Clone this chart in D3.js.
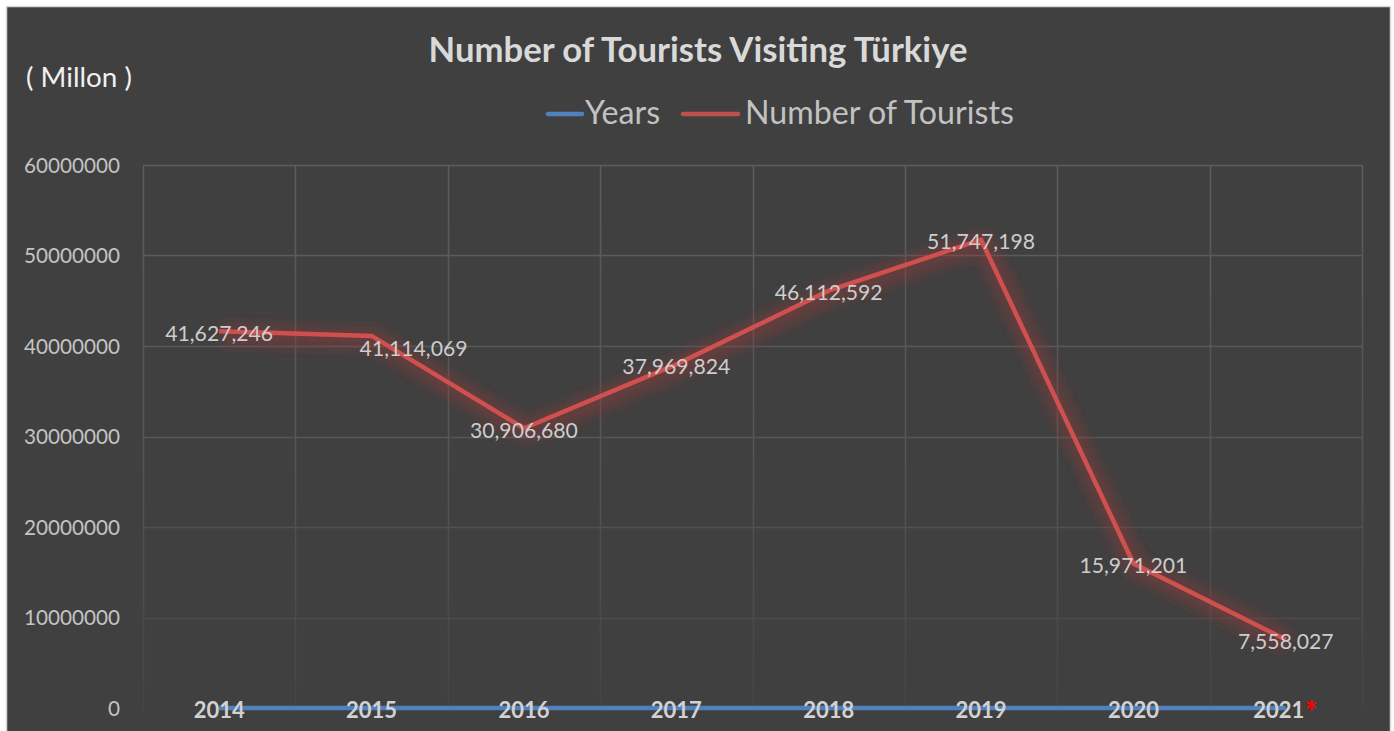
<!DOCTYPE html>
<html lang="en">
<head>
    <meta charset="UTF-8">
    <title>Number of Tourists Visiting Türkiye</title>
    <script src="https://d3js.org/d3.v7.min.js"></script>
    <style>
        body, html {
            margin: 0px;
            background: #ffffff;
        }
        svg text {
            font-family: Lato, "Open Sans", sans-serif;
        }
    </style>
</head>
<body>
    <div id="chart"></div>
    <script>
        // data
        var years = ["2014", "2015", "2016", "2017", "2018", "2019", "2020", "2021"];
        var yearValues = [2014, 2015, 2016, 2017, 2018, 2019, 2020, 2021];
        var tourists = [41627246, 41114069, 30906680, 37969824, 46112592, 51747198, 15971201, 7558027];
        var yTicks = [0, 10000000, 20000000, 30000000, 40000000, 50000000, 60000000];
        var legendNames = ["Years", "Number of Tourists"];

        var width = 1394, height = 731;
        var plot = { left: 143, right: 1362, top: 165, bottom: 708 };

        var svg = d3.select("#chart")
            .append("svg")
            .attr("width", width)
            .attr("height", height);

        // scale the font of a selection so that its first text is w pixels wide
        function fitTo(sel, w) {
            var node = sel.node();
            var fs = parseFloat(window.getComputedStyle(node).fontSize);
            var cur = node.getComputedTextLength();
            if (cur > 0) sel.style("font-size", (fs * w / cur).toFixed(2) + "px");
        }

        var defs = svg.append("defs");

        // soft glow round the lines
        var glow = defs.append("filter")
            .attr("id", "glow")
            .attr("x", "-10%").attr("y", "-30%")
            .attr("width", "120%").attr("height", "160%");
        glow.append("feGaussianBlur").attr("stdDeviation", 6);

        // grid gets fainter towards the bottom
        var gridGrad = defs.append("linearGradient")
            .attr("id", "gridGrad")
            .attr("gradientUnits", "userSpaceOnUse")
            .attr("x1", 0).attr("x2", 0)
            .attr("y1", plot.top).attr("y2", plot.bottom);
        gridGrad.append("stop").attr("offset", "0%").attr("stop-color", "#5d5d5d");
        gridGrad.append("stop").attr("offset", "55%").attr("stop-color", "#555555");
        gridGrad.append("stop").attr("offset", "100%").attr("stop-color", "#454545");

        // background + frame
        svg.append("rect")
            .attr("x", 6.5).attr("y", 6.5)
            .attr("width", 1384).attr("height", 740)
            .attr("fill", "#404040")
            .attr("stroke", "#d9d9d9")
            .attr("stroke-width", 1.5);

        var x = d3.scaleBand()
            .domain(years)
            .range([plot.left, plot.right]);
        var cx = d => x(d) + x.bandwidth() / 2;

        var y = d3.scaleLinear()
            .domain([0, 60000000])
            .range([plot.bottom, plot.top]);

        // grid
        var grid = svg.append("g").attr("class", "grid");
        grid.selectAll("line.h")
            .data(yTicks.filter(d => d > 0))
            .enter().append("line")
            .attr("class", "h")
            .attr("x1", plot.left).attr("x2", plot.right)
            .attr("y1", d => Math.round(y(d)) + 0.5)
            .attr("y2", d => Math.round(y(d)) + 0.5)
            .attr("stroke", "url(#gridGrad)")
            .attr("stroke-width", 1.5);
        var vlines = years.map(d => x(d)).concat([plot.right]);
        grid.selectAll("line.v")
            .data(vlines)
            .enter().append("line")
            .attr("class", "v")
            .attr("x1", d => Math.round(d) + 0.5).attr("x2", d => Math.round(d) + 0.5)
            .attr("y1", plot.top).attr("y2", plot.bottom)
            .attr("stroke", "url(#gridGrad)")
            .attr("stroke-width", 1.5);

        // y axis labels
        var yAxis = d3.axisLeft(y)
            .tickValues(yTicks)
            .tickFormat(d3.format("d"))
            .tickSize(0)
            .tickPadding(0);
        var yg = svg.append("g")
            .attr("transform", "translate(120,0)")
            .call(yAxis);
        yg.select(".domain").remove();
        yg.attr("font-family", null).attr("font-size", null);
        var yText = yg.selectAll("text")
            .attr("fill", "#c4c4c4")
            .style("font-size", "20px")
            .attr("dy", "0.36em");
        fitTo(yg.selectAll("text").filter(d => d === 60000000), 96);
        yText.style("font-size", yg.selectAll("text").filter(d => d === 60000000).style("font-size"));

        // Years series (sits on the zero line)
        var lineYears = d3.line()
            .x((d, i) => cx(years[i]))
            .y(d => y(d));
        svg.append("path")
            .datum(yearValues)
            .attr("d", lineYears)
            .attr("transform", "translate(0,-4)")
            .attr("fill", "none")
            .attr("stroke", "#4f81bd")
            .attr("stroke-width", 12)
            .attr("stroke-opacity", 0.3)
            .attr("filter", "url(#glow)");
        svg.append("path")
            .datum(yearValues)
            .attr("d", lineYears)
            .attr("fill", "none")
            .attr("stroke", "#4f81bd")
            .attr("stroke-width", 4.5);

        // x axis labels (bold years)
        var xAxis = d3.axisBottom(x).tickSize(0).tickPadding(0);
        var xg = svg.append("g")
            .attr("transform", "translate(0," + 718 + ")")
            .call(xAxis);
        xg.select(".domain").remove();
        xg.attr("font-family", null).attr("font-size", null);
        xg.selectAll("text")
            .attr("fill", "#d2d2d2")
            .attr("dy", "0")
            .attr("y", 0)
            .attr("x", d => d === "2021" ? -7 : 0)
            .style("font-size", "22px")
            .style("font-weight", "bold");

        // red asterisk on 2021
        svg.append("text")
            .attr("x", cx("2021") + 19)
            .attr("y", 723)
            .attr("fill", "#ff0000")
            .style("font-size", "30px")
            .style("font-weight", "bold")
            .text("*");

        // tourists line
        var lineT = d3.line()
            .x((d, i) => cx(years[i]))
            .y(d => y(d));
        svg.append("path")
            .datum(tourists)
            .attr("d", lineT)
            .attr("transform", "translate(2,3)")
            .attr("fill", "none")
            .attr("stroke", "#9c3636")
            .attr("stroke-width", 22)
            .attr("stroke-opacity", 0.4)
            .attr("stroke-linejoin", "round")
            .attr("filter", "url(#glow)");
        svg.append("path")
            .datum(tourists)
            .attr("d", lineT)
            .attr("fill", "none")
            .attr("stroke", "#cf504e")
            .attr("stroke-width", 4.5)
            .attr("stroke-linejoin", "miter");

        // data labels, centred on the point (2015 pushed right/down)
        var labelShift = { "2015": [42, 10] };
        var labels = svg.append("g")
            .selectAll("text")
            .data(tourists)
            .enter().append("text")
            .attr("x", (d, i) => cx(years[i]) + (labelShift[years[i]] ? labelShift[years[i]][0] : 0))
            .attr("y", (d, i) => y(d) + (labelShift[years[i]] ? labelShift[years[i]][1] : 0) + 2)
            .attr("dy", "0.36em")
            .attr("text-anchor", "middle")
            .attr("fill", "#cdcdcd")
            .style("font-size", "20px")
            .text(d => d3.format(",")(d));
        fitTo(labels.filter((d, i) => i === 0), 108);
        labels.style("font-size", labels.filter((d, i) => i === 0).style("font-size"));

        // title
        var title = svg.append("text")
            .attr("x", 698)
            .attr("y", 62)
            .attr("text-anchor", "middle")
            .attr("fill", "#d9d9d9")
            .style("font-size", "29px")
            .style("font-weight", "bold")
            .text("Number of Tourists Visiting Türkiye");
        fitTo(title, 539);

        var unit = svg.append("text")
            .attr("x", 26)
            .attr("y", 87)
            .attr("fill", "#f0f0f0")
            .style("font-size", "22px")
            .text("( Millon )");
        fitTo(unit, 106);

        // legend
        var legend = svg.append("g");
        var legendColors = ["#4f81bd", "#c0504d"];
        var legendX = [[548, 582, 585], [683, 738, 745]];
        legendNames.forEach((name, i) => {
            legend.append("line")
                .attr("x1", legendX[i][0]).attr("x2", legendX[i][1])
                .attr("y1", 114).attr("y2", 114)
                .attr("stroke", legendColors[i])
                .attr("stroke-width", 4.5)
                .attr("stroke-linecap", "round");
            legend.append("text")
                .attr("class", "legend-text")
                .attr("x", legendX[i][2])
                .attr("y", 124)
                .attr("fill", "#c2c2c2")
                .style("font-size", "26px")
                .text(name);
        });
        var legTexts = legend.selectAll("text.legend-text");
        fitTo(legTexts.filter((d, i) => i === 1), 269);
        legTexts.style("font-size", legTexts.filter((d, i) => i === 1).style("font-size"));
    </script>
</body>
</html>
